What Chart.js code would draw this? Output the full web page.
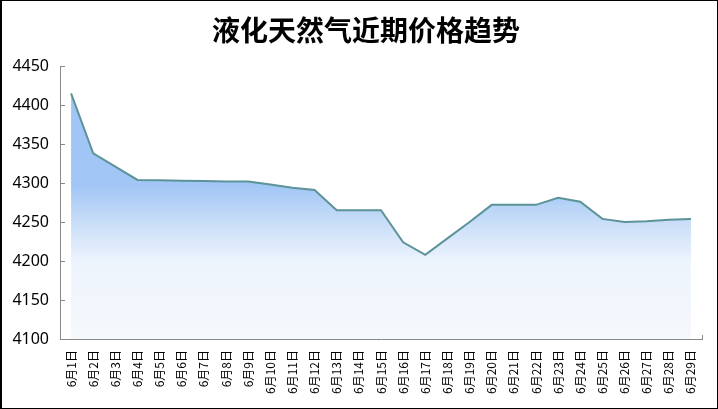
<!DOCTYPE html>
<html>
<head>
<meta charset="utf-8">
<script src="https://cdn.jsdelivr.net/npm/chart.js@4.4.0/dist/chart.umd.min.js"></script>
<style>
  html, body { margin: 0; padding: 0; background: #fff; }
  #box { width: 718px; height: 409px; box-sizing: border-box; border: 1px solid #000; border-left-width: 2px; }
  canvas { display: block; }
</style>
</head>
<body>
<div id="box"><canvas id="myChart" width="715" height="407"></canvas></div>
<script>
// 6월 날짜
var labels = [];
for (var d = 1; d <= 29; d++) labels.push("6月" + d + "日");

// 가격
var prices = [4415, 4338, 4321, 4304, 4303.5, 4303, 4302.5, 4302, 4302, 4298,
              4294, 4291, 4265, 4265, 4265, 4224, 4208, 4229, 4250, 4272,
              4272, 4272, 4281, 4276, 4254, 4250, 4251, 4253, 4254];

var yTicks = [4100, 4150, 4200, 4250, 4300, 4350, 4400, 4450];

var titleText = "液化天然气近期价格趋势";

function fillGrad(ctx) {
    var area = ctx.chart.chartArea;
    if (!area) return "#c8dcf8";
    var g = ctx.chart.ctx.createLinearGradient(0, area.top, 0, area.bottom);
    g.addColorStop(0, "#9fc4f5");
    g.addColorStop(0.44, "#a2c6f5");
    g.addColorStop(0.58, "#cadff8");
    g.addColorStop(0.72, "#eef4fd");
    g.addColorStop(1, "#f5f8fc");
    return g;
}

// 제목 (가운데에서 조금 오른쪽)
var titlePlugin = {
    id: 'myTitle',
    afterDraw: function (chart) {
        var c = chart.ctx;
        c.save();
        c.font = "bold 28px 'Noto Sans CJK SC'";
        c.fillStyle = "#000";
        c.textAlign = "center";
        c.textBaseline = "middle";
        c.fillText(titleText, 364, 29);
        c.restore();
    }
};

Chart.defaults.animation = false;

new Chart(document.getElementById("myChart"), {
    type : 'line',
    data : {
        labels: labels,
        datasets: [
            {
            data: prices,
            borderColor: "#5b9398",
            borderWidth: 2,
            backgroundColor: fillGrad,
            fill: 'start',
            pointRadius: 0,
            tension: 0,
            },
        ],
    },
    options : {
        responsive: false,
        layout: { padding: { left: 0, right: 15, top: 65, bottom: 0 } },
        plugins: {
            legend: { display: false },
            tooltip: { enabled: false },
        },
        scales: {
            x: {
                offset: true,
                grid: { drawOnChartArea: false, tickLength: -4, color: "#888", offset: true },
                border: { color: "#888", width: 1 },
                ticks: {
                    minRotation: 90, maxRotation: 90, autoSkip: false,
                    padding: 15, color: "#000",
                    font: { family: "'Noto Sans CJK SC'", size: 12 },
                },
                afterFit: function (s) { s.height = 69; s.paddingLeft = 0; s.paddingRight = 0; },
            },
            y: {
                min: 4100, max: 4450,
                afterBuildTicks: function (s) { s.ticks = yTicks.map(function (v) { return { value: v }; }); },
                grid: { drawOnChartArea: false, tickLength: -5, color: "#888" },
                border: { color: "#888", width: 1 },
                ticks: {
                    padding: 16, color: "#000",
                    font: { family: "'Noto Sans'", size: 16 },
                    callback: function (v) { return String(v); },
                },
                afterFit: function (s) { s.width = 58; },
            },
        },
    },
    plugins: [titlePlugin],
});
</script>
</body>
</html>
